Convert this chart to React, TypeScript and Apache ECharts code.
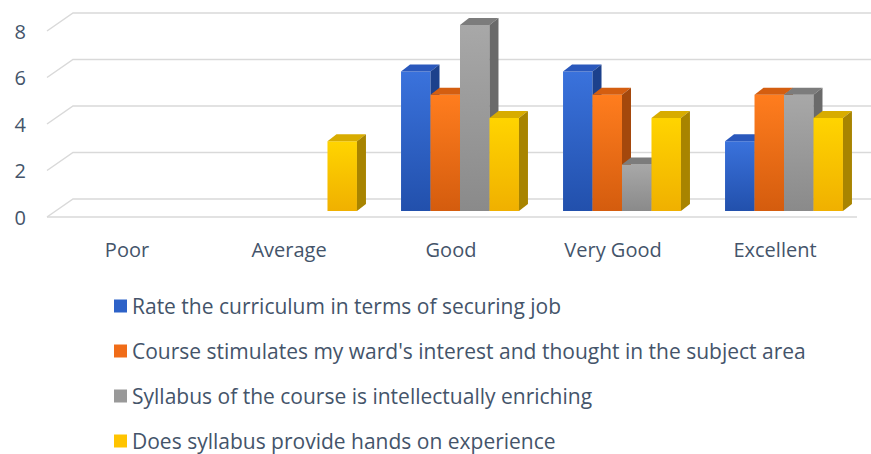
import React, { useEffect, useRef } from "react";
import * as echarts from "echarts";

const categories = ["Poor", "Average", "Good", "Very Good", "Excellent"];
const seriesNames = [
  "Rate the curriculum in terms of securing job",
  "Course stimulates my ward's interest and thought in the subject area",
  "Syllabus of the course is intellectually enriching",
  "Does syllabus provide hands on experience",
];
const rateJob = [0, 0, 6, 6, 3];
const courseStimulates = [0, 0, 5, 5, 5];
const syllabusEnriching = [0, 0, 8, 2, 5];
const handsOn = [0, 3, 4, 4, 4];
const yTicks = [0, 2, 4, 6, 8];

const seriesValues = [rateJob, courseStimulates, syllabusEnriching, handsOn];

const palettes = [
  { top: "#3a72dc", bottom: "#2250ac", cap: "#2a58bc", side: "#1c418c", legend: "#2d62c8" },
  { top: "#ff7d1e", bottom: "#d45c0e", cap: "#d45e10", side: "#a4480c", legend: "#f06c18" },
  { top: "#a8a8a8", bottom: "#8a8a8a", cap: "#7c7c7c", side: "#6a6a6a", legend: "#999999" },
  { top: "#ffd400", bottom: "#f0b000", cap: "#d8ac00", side: "#a88400", legend: "#ffc400" },
];

const DX = 9;
const DY = -7;
const BAR_FRAC = 0.182;
const BACK_DX = 18;
const BACK_DY = -12;
const FRONT_DX = -8;
const FRONT_DY = 6;
const GRID_COLOR = "#d9d9d9";
const TEXT_COLOR = "#44546a";
const FONT = "'Open Sans', 'Noto Sans', sans-serif";

export default function App() {
  const ref = useRef<HTMLDivElement>(null);

  useEffect(() => {
    document.body.style.margin = "0";
    if (!ref.current) return;
    const chart = echarts.init(ref.current, undefined, { renderer: "svg" });

    const gridSeries: any = {
      type: "custom",
      name: "__grid",
      silent: true,
      z: 1,
      data: yTicks.map((v) => [0, v]),
      renderItem: (params: any, api: any) => {
        const cs = params.coordSys;
        const L = cs.x;
        const R = cs.x + cs.width;
        const v = api.value(1);
        const y = api.coord([0, v])[1];
        const children: any[] = [
          {
            type: "polyline",
            shape: {
              points: [
                [L + FRONT_DX, y + FRONT_DY],
                [L + BACK_DX, y + BACK_DY],
                [R + BACK_DX, y + BACK_DY],
              ],
            },
            style: { stroke: GRID_COLOR, lineWidth: 1.5, fill: null },
          },
          {
            type: "text",
            x: L + FRONT_DX - 21,
            y: y + FRONT_DY,
            style: {
              text: String(v),
              fill: TEXT_COLOR,
              font: `20px ${FONT}`,
              align: "right",
              verticalAlign: "middle",
            },
          },
        ];
        if (v === 0) {
          children.push({
            type: "line",
            shape: { x1: L + FRONT_DX, y1: y + FRONT_DY, x2: R + FRONT_DX, y2: y + FRONT_DY },
            style: { stroke: GRID_COLOR, lineWidth: 1.5 },
          });
        }
        return { type: "group", children };
      },
    };

    const barSeries = seriesValues.map((vals, i) => {
      const p = palettes[i];
      return {
        type: "custom",
        name: seriesNames[i],
        z: 2 + i,
        itemStyle: { color: p.legend },
        data: vals.map((v, c) => [c, v]),
        renderItem: (params: any, api: any) => {
          const c = api.value(0);
          const v = api.value(1);
          if (!(v > 0)) return null;
          const base = api.coord([c, 0]);
          const top = api.coord([c, v]);
          const band = api.size([1, 0])[0];
          const bw = band * BAR_FRAC;
          const x0 = base[0] - 2 * bw + i * bw;
          const ty = top[1];
          const by = base[1];
          return {
            type: "group",
            children: [
              {
                type: "rect",
                shape: { x: x0, y: ty, width: bw, height: by - ty },
                style: {
                  fill: new echarts.graphic.LinearGradient(0, 0, 0, 1, [
                    { offset: 0, color: p.top },
                    { offset: 1, color: p.bottom },
                  ]),
                },
              },
              {
                type: "polygon",
                shape: {
                  points: [
                    [x0, ty],
                    [x0 + bw, ty],
                    [x0 + bw + DX, ty + DY],
                    [x0 + DX, ty + DY],
                  ],
                },
                style: { fill: p.cap },
              },
              {
                type: "polygon",
                shape: {
                  points: [
                    [x0 + bw, ty],
                    [x0 + bw + DX, ty + DY],
                    [x0 + bw + DX, by + DY],
                    [x0 + bw, by],
                  ],
                },
                style: { fill: p.side },
              },
            ],
          };
        },
      };
    });

    chart.setOption({
      animation: false,
      textStyle: { fontFamily: FONT },
      grid: { left: 55, right: 6, top: 25, bottom: 243, containLabel: false },
      xAxis: {
        type: "category",
        data: categories,
        axisLine: { show: false },
        axisTick: { show: false },
        splitLine: { show: false },
        axisLabel: {
          color: TEXT_COLOR,
          fontSize: 20,
          fontFamily: FONT,
          margin: 28,
          padding: [0, 18, 0, 0],
        },
      },
      yAxis: {
        type: "value",
        min: 0,
        max: 8,
        interval: 2,
        axisLine: { show: false },
        axisTick: { show: false },
        splitLine: { show: false },
        axisLabel: { show: false },
      },
      legend: {
        orient: "vertical",
        left: 114,
        top: 295,
        height: 220,
        padding: 0,
        icon: "rect",
        itemWidth: 13,
        itemHeight: 13,
        itemGap: 23,
        data: seriesNames,
        textStyle: { color: TEXT_COLOR, fontSize: 21, fontFamily: FONT, lineHeight: 22 },
      },
      series: [gridSeries, ...barSeries],
    });

    return () => chart.dispose();
  }, []);

  return <div ref={ref} style={{ width: 871, height: 454 }} />;
}
